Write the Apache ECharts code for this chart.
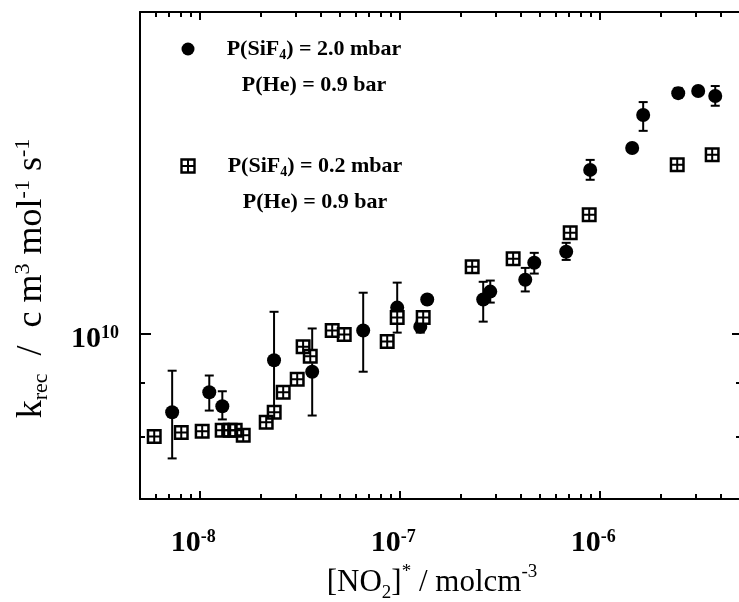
<!DOCTYPE html>
<html><head><meta charset="utf-8">
<script src="https://cdn.jsdelivr.net/npm/echarts@6/dist/echarts.min.js"></script>
<style>html,body{margin:0;padding:0;background:#fff}#c{width:739px;height:602px}</style>
</head><body><div id="c"></div>
<script>
// ---- data: P(SiF4) = 2.0 mbar (filled circles, with error bars) ----
const circleX = [7.24e-9, 1.11e-8, 1.29e-8, 2.34e-8, 3.63e-8, 6.53e-8, 9.66e-8, 1.26e-7, 1.365e-7, 2.60e-7,
                 2.82e-7, 4.22e-7, 4.68e-7, 6.76e-7, 8.91e-7, 1.445e-6, 1.64e-6, 2.455e-6, 3.09e-6, 3.76e-6];
const circleY = [8.44e9, 8.81e9, 8.55e9, 9.44e9, 9.21e9, 1.0065e10, 1.0575e10, 1.015e10, 1.076e10, 1.076e10,
                 1.0946e10, 1.123e10, 1.165e10, 1.193e10, 1.423e10, 1.492e10, 1.602e10, 1.679e10, 1.687e10, 1.669e10];
const circleErrLow  = [7.64e9, 8.47e9, 8.31e9, 8.49e9, 8.38e9, 9.21e9, 1.002e10, 1.002e10, null, 1.026e10,
                       1.069e10, 1.095e10, 1.138e10, 1.172e10, 1.393e10, null, 1.548e10, 1.662e10, null, 1.634e10];
const circleErrHigh = [9.23e9, 9.135e9, 8.83e9, 1.048e10, 1.011e10, 1.092e10, 1.116e10, 1.028e10, null, 1.118e10,
                       1.121e10, 1.152e10, 1.19e10, 1.216e10, 1.454e10, null, 1.647e10, 1.698e10, null, 1.705e10];
// ---- data: P(SiF4) = 0.2 mbar (crossed squares) ----
const squareX = [5.89e-9, 8.04e-9, 1.023e-8, 1.288e-8, 1.413e-8, 1.496e-8, 1.641e-8, 2.138e-8, 2.344e-8, 2.60e-8,
                 3.055e-8, 3.27e-8, 3.55e-8, 4.57e-8, 5.25e-8, 8.61e-8, 9.66e-8, 1.303e-7, 2.29e-7, 3.67e-7,
                 7.08e-7, 8.81e-7, 2.427e-6, 3.63e-6];
const squareY = [8.01e9, 8.08e9, 8.10e9, 8.12e9, 8.12e9, 8.12e9, 8.03e9, 8.26e9, 8.44e9, 8.81e9,
                 9.06e9, 9.72e9, 9.52e9, 1.0065e10, 9.98e9, 9.83e9, 1.035e10, 1.035e10, 1.155e10, 1.175e10,
                 1.243e10, 1.292e10, 1.439e10, 1.47e10];
// ---- axis ticks ----
const xRange = [5e-9, 5e-6];
const yRange = [7e9, 2e10];
const xMajorExp = [-8, -7, -6];
const yMajorExp = [10];
const minorMantissa = [2, 3, 4, 5, 6, 7, 8, 9];
const yMinorTicks = [8e9, 9e9];
const legendTexts = [
  ['P(SiF', '4', ') = 2.0 mbar', 'P(He) = 0.9 bar'],
  ['P(SiF', '4', ') = 0.2 mbar', 'P(He) = 0.9 bar']
];

const FONT = '"Liberation Serif", "Times New Roman", serif';
const xMajor = xMajorExp.map(e => Math.pow(10, e));
const yMajor = yMajorExp.map(e => Math.pow(10, e));
const xMinor = [];
for (let e = -9; e <= -6; e++) minorMantissa.forEach(m => {
  const v = m * Math.pow(10, e);
  if (v > xRange[0] * 1.001 && v < xRange[1] * 0.999) xMinor.push(v);
});

const BLACK = '#000';
const expLabel = v => '{b|10}{s|' + Math.round(Math.log10(v)) + '}';
const labelRich = {
  b: {fontFamily: FONT, fontSize: 30, fontWeight: 'bold', color: BLACK, lineHeight: 30},
  s: {fontFamily: FONT, fontSize: 18, fontWeight: 'bold', color: BLACK, lineHeight: 2, verticalAlign: 'top'}
};
function nameRich(size) {
  return {
    n: {fontFamily: FONT, fontSize: size, color: BLACK, lineHeight: 40},
    sub: {fontFamily: FONT, fontSize: Math.round(size * 0.62), color: BLACK, lineHeight: 14, verticalAlign: 'bottom'},
    sup: {fontFamily: FONT, fontSize: Math.round(size * 0.62), color: BLACK, lineHeight: 10, verticalAlign: 'top'}
  };
}

function mkAxis(kind, position, ticks, len, opts) {
  const a = {
    type: 'log', logBase: 10, position: position,
    min: kind === 'x' ? xRange[0] : yRange[0],
    max: kind === 'x' ? xRange[1] : yRange[1],
    axisLine: {show: !!opts.line, onZero: false, lineStyle: {color: BLACK, width: 2}},
    axisTick: {show: true, inside: true, length: len, customValues: ticks, lineStyle: {color: BLACK, width: 2}},
    axisLabel: {show: false},
    splitLine: {show: false}, minorTick: {show: false}, minorSplitLine: {show: false},
    axisPointer: {show: false}
  };
  return Object.assign(a, opts.extra || {});
}

const squarePath = 'path://M0,0H15V15H0Z M2.5,2.5V6.5H6.5V2.5Z M8.5,2.5V6.5H12.5V2.5Z M2.5,8.5V12.5H6.5V8.5Z M8.5,8.5V12.5H12.5V8.5Z';

const errData = [];
circleX.forEach((x, i) => {
  if (circleErrLow[i] != null) errData.push([x, circleErrLow[i], circleErrHigh[i]]);
});

const option = {
  animation: false,
  backgroundColor: '#fff',
  grid: {left: 140, top: 12, width: 600, height: 487, containLabel: false, outerBoundsMode: 'none'},
  xAxis: [
    mkAxis('x', 'bottom', xMajor, 8, {line: true, extra: {
      axisLabel: {show: true, customValues: xMajor, margin: 29, formatter: expLabel, rich: labelRich, padding: [0, 14, 0, 0]},
      name: '{n|[NO}{sub|2}{n|]}{sup|*}{n| / molcm}{sup|-3}',
      nameLocation: 'middle', nameGap: 55, nameTextStyle: {rich: nameRich(31), padding: [0, 16, 0, 0]}
    }}),
    mkAxis('x', 'bottom', xMinor, 5, {}),
    mkAxis('x', 'top', xMajor, 8, {line: true}),
    mkAxis('x', 'top', xMinor, 5, {})
  ],
  yAxis: [
    mkAxis('y', 'left', yMajor, 11, {line: true, extra: {
      axisLabel: {show: true, customValues: yMajor, margin: 21, formatter: expLabel, rich: labelRich, padding: [12, 0, 0, 0]},
      name: '{n|k}{sub|rec}{n|  /  c m}{sup|3}{n| mol}{sup|-1}{n| s}{sup|-1}',
      nameLocation: 'middle', nameGap: 88, nameTextStyle: {rich: nameRich(36), padding: [0, 46, 0, 0]}
    }}),
    mkAxis('y', 'left', yMinorTicks, 5, {}),
    mkAxis('y', 'right', yMajor, 8, {line: false}),
    mkAxis('y', 'right', yMinorTicks, 4, {})
  ],
  series: [
    {
      type: 'custom', name: 'err', xAxisIndex: 0, yAxisIndex: 0, z: 2,
      data: errData,
      renderItem: function (params, api) {
        const x = api.value(0);
        const lo = api.coord([x, api.value(1)]);
        const hi = api.coord([x, api.value(2)]);
        const cw = 4.5;
        const st = {stroke: BLACK, lineWidth: 2};
        return {type: 'group', children: [
          {type: 'line', shape: {x1: lo[0], y1: lo[1], x2: hi[0], y2: hi[1]}, style: st},
          {type: 'line', shape: {x1: hi[0] - cw, y1: hi[1], x2: hi[0] + cw, y2: hi[1]}, style: st},
          {type: 'line', shape: {x1: lo[0] - cw, y1: lo[1], x2: lo[0] + cw, y2: lo[1]}, style: st}
        ]};
      }
    },
    {
      type: 'scatter', name: 'P(SiF4) = 2.0 mbar', xAxisIndex: 0, yAxisIndex: 0, z: 3,
      symbol: 'circle', symbolSize: 14,
      itemStyle: {color: BLACK, opacity: 1},
      data: circleX.map((x, i) => [x, circleY[i]])
    },
    {
      type: 'scatter', name: 'bg', xAxisIndex: 0, yAxisIndex: 0, z: 4, silent: true,
      symbol: 'rect', symbolSize: 14,
      itemStyle: {color: '#fff', opacity: 1},
      data: squareX.map((x, i) => [x, squareY[i]])
    },
    {
      type: 'scatter', name: 'P(SiF4) = 0.2 mbar', xAxisIndex: 0, yAxisIndex: 0, z: 5,
      symbol: squarePath, symbolSize: 15,
      itemStyle: {color: BLACK, opacity: 1},
      data: squareX.map((x, i) => [x, squareY[i]])
    }
  ],
  graphic: []
};

const legRich = {
  n: {fontFamily: FONT, fontSize: 22, fontWeight: 'bold', fill: BLACK, lineHeight: 26},
  sub: {fontFamily: FONT, fontSize: 14, fontWeight: 'bold', fill: BLACK, lineHeight: 8, verticalAlign: 'bottom'}
};
const legY = [49, 166];
const legCx = [314, 315];
legendTexts.forEach((t, k) => {
  option.graphic.push({
    type: 'text', x: legCx[k], y: legY[k],
    style: {text: '{n|' + t[0] + '}{sub|' + t[1] + '}{n|' + t[2] + '}', rich: legRich, align: 'center', verticalAlign: 'middle'}
  });
  option.graphic.push({
    type: 'text', x: legCx[k], y: legY[k] + 36,
    style: {text: t[3], fontFamily: FONT, fontSize: 22, fontWeight: 'bold', fill: BLACK, align: 'center', verticalAlign: 'middle'}
  });
});
option.graphic.push({type: 'circle', shape: {cx: 188, cy: legY[0], r: 6.5}, style: {fill: BLACK}});
option.graphic.push({type: 'group', x: 188, y: legY[1], children: [
  {type: 'rect', shape: {x: -6.5, y: -6.5, width: 13, height: 13}, style: {fill: '#fff', stroke: BLACK, lineWidth: 2.4}},
  {type: 'line', shape: {x1: 0, y1: -6.5, x2: 0, y2: 6.5}, style: {stroke: BLACK, lineWidth: 2}},
  {type: 'line', shape: {x1: -6.5, y1: 0, x2: 6.5, y2: 0}, style: {stroke: BLACK, lineWidth: 2}}
]});

const chart = echarts.init(document.getElementById('c'), null, {renderer: 'canvas'});
chart.setOption(option);
</script>
</body></html>
